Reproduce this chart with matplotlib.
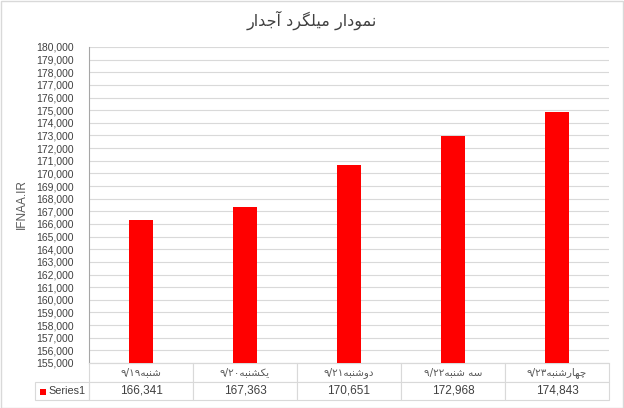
import re
import matplotlib
matplotlib.use("Agg")
import matplotlib.pyplot as plt
from matplotlib.patches import Rectangle
from matplotlib.ticker import FuncFormatter

# Data
title = "نمودار میلگرد آجدار"
categories = ["شنبه۹/۱۹", "یکشنبه۹/۲۰", "دوشنبه۹/۲۱", "سه شنبه۹/۲۲", "چهارشنبه۹/۲۳"]
values = [166341, 167363, 170651, 172968, 174843]
series_name = "Series1"
y_label = "IFNAA.IR"

# Simple Persian shaping (matplotlib does no text shaping / bidi)
# letter: (isolated, final, initial, medial); right-joining letters have 2 forms
FORMS = {
    "ا": ("\ufe8d", "\ufe8e"),
    "آ": ("\ufe81", "\ufe82"),
    "د": ("\ufea9", "\ufeaa"),
    "ر": ("\ufead", "\ufeae"),
    "و": ("\ufeed", "\ufeee"),
    "ب": ("\ufe8f", "\ufe90", "\ufe91", "\ufe92"),
    "ج": ("\ufe9d", "\ufe9e", "\ufe9f", "\ufea0"),
    "چ": ("\ufb7a", "\ufb7b", "\ufb7c", "\ufb7d"),
    "س": ("\ufeb1", "\ufeb2", "\ufeb3", "\ufeb4"),
    "ش": ("\ufeb5", "\ufeb6", "\ufeb7", "\ufeb8"),
    "ک": ("\ufb8e", "\ufb8f", "\ufb90", "\ufb91"),
    "گ": ("\ufb92", "\ufb93", "\ufb94", "\ufb95"),
    "ل": ("\ufedd", "\ufede", "\ufedf", "\ufee0"),
    "م": ("\ufee1", "\ufee2", "\ufee3", "\ufee4"),
    "ن": ("\ufee5", "\ufee6", "\ufee7", "\ufee8"),
    "ه": ("\ufee9", "\ufeea", "\ufeeb", "\ufeec"),
    "ی": ("\ufbfc", "\ufbfd", "\ufbfe", "\ufbff"),
}


def fa(text):
    out = []
    for i, ch in enumerate(text):
        if ch not in FORMS:
            out.append(ch)
            continue
        prev = text[i - 1] if i > 0 else ""
        nxt = text[i + 1] if i + 1 < len(text) else ""
        joins_prev = prev in FORMS and len(FORMS[prev]) == 4
        joins_next = len(FORMS[ch]) == 4 and nxt in FORMS
        f = FORMS[ch]
        if joins_prev and joins_next:
            out.append(f[3])
        elif joins_prev:
            out.append(f[1])
        elif joins_next:
            out.append(f[2])
        else:
            out.append(f[0])
    vis = "".join(out)[::-1]
    # numbers keep left-to-right order
    return re.sub(r"[۰-۹0-9][۰-۹0-9/]*", lambda m: m.group()[::-1], vis)


plt.rcParams["font.family"] = ["DejaVu Sans"]
grey = "#595959"
dark = "#404040"
line = "#d9d9d9"

fig = plt.figure(figsize=(6.24, 4.08), dpi=100)
fig.patches.append(Rectangle((0.001, 0.001), 0.997, 0.996, transform=fig.transFigure,
                             fill=False, edgecolor=line, linewidth=1))
W, H = 624.0, 408.0
ax = fig.add_axes([89 / W, 1 - 363 / H, 520 / W, 316 / H])

x = range(len(values))
ax.bar(x, values, width=0.24, color="#ff0000", zorder=3)
ax.set_xlim(-0.5, len(values) - 0.5)
ax.set_ylim(155000, 180000)
ax.set_yticks(range(155000, 180001, 1000))
ax.yaxis.set_major_formatter(FuncFormatter(lambda v, p: f"{int(v):,}"))
ax.tick_params(axis="y", length=0, pad=11, labelsize=7.5, labelcolor=dark)
for lab in ax.get_yticklabels():
    lab.set_fontfamily("Liberation Sans")
ax.set_xticks([])
ax.grid(axis="y", color=line, linewidth=0.8, zorder=0)
for s in ["top", "right"]:
    ax.spines[s].set_visible(False)
ax.spines["left"].set_color("#a6a6a6")
ax.spines["bottom"].set_color(line)

fig.text(22 / W, 1 - 204 / H, y_label, rotation=90, ha="center", va="center",
         fontsize=8.5, color=grey, family="Liberation Sans")
fig.text(0.5, 1 - 20 / H, fa(title), ha="center", va="center", fontsize=11.5, color=dark)

# data table under the axis
th = 37 / 316.0
tab = ax.table(cellText=[[f"{v:,}" for v in values]],
               colLabels=[fa(c) for c in categories],
               cellLoc="center", bbox=[0, -th, 1, th])
tab.auto_set_font_size(False)
for (r, c), cell in tab.get_celld().items():
    cell.set_edgecolor(line)
    cell.set_linewidth(0.8)
    if r == 0:
        cell.get_text().set_fontsize(7.5)
        cell.get_text().set_color(grey)
    else:
        cell.get_text().set_fontsize(8.5)
        cell.get_text().set_color(dark)
        cell.get_text().set_fontfamily("Liberation Sans")

fig.patches.append(Rectangle((35 / W, 1 - 400 / H), 54 / W, 18 / H, transform=fig.transFigure,
                             fill=False, edgecolor=line, linewidth=0.8))
fig.patches.append(Rectangle((40 / W, 1 - 394.5 / H), 6 / W, 6 / H, transform=fig.transFigure,
                             facecolor="#ff0000", edgecolor="none"))
fig.text(48 / W, 1 - 391 / H, series_name, ha="left", va="center", fontsize=7.8,
         color=dark, family="Liberation Sans")

fig.savefig("out.png", dpi=100)
